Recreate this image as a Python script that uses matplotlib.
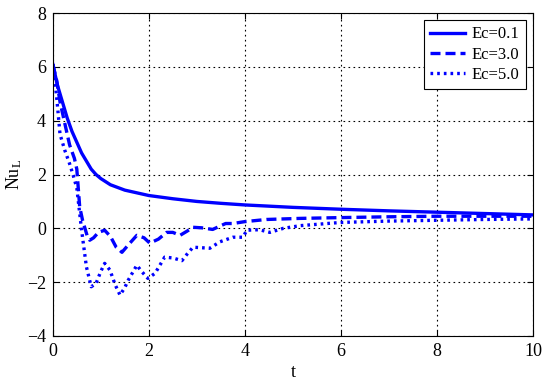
import numpy as np
import matplotlib
matplotlib.use("Agg")
import matplotlib.pyplot as plt

plt.rcParams['font.family'] = ['Liberation Serif', 'DejaVu Serif']
plt.rcParams['mathtext.fontset'] = 'custom'
plt.rcParams['mathtext.rm'] = 'Liberation Serif'
plt.rcParams['mathtext.it'] = 'Liberation Serif:italic'

# Ec = 0.1
t1 = [0, 0.1, 0.2, 0.3, 0.4, 0.5, 0.6, 0.7, 0.8, 0.9, 1.0, 1.2, 1.5, 2.0, 2.5, 3.0, 3.5, 4.0,
      5.0, 6.0, 7.0, 8.0, 9.0, 10.0]
nu1 = [6.1, 5.3, 4.7, 4.1, 3.6, 3.2, 2.8, 2.5, 2.2, 2.0, 1.85, 1.62, 1.42, 1.22, 1.1, 1.0, 0.93, 0.87,
       0.78, 0.71, 0.65, 0.6, 0.55, 0.5]

# Ec = 3.0
t2 = [0, 0.08, 0.15, 0.25, 0.35, 0.45, 0.5, 0.56, 0.62, 0.67, 0.72, 0.77, 0.85, 0.95, 1.08, 1.2,
      1.32, 1.44, 1.58, 1.75, 1.9, 2.02, 2.2, 2.37, 2.5, 2.65, 2.8, 2.92, 3.1, 3.33, 3.5, 3.6,
      3.75, 4.0, 4.45, 5.15, 6.0, 7.0, 8.0, 9.0, 10.0]
nu2 = [6.1, 5.5, 4.7, 3.9, 3.1, 2.6, 2.2, 0.8, 0.3, 0.0, -0.3, -0.44, -0.35, -0.15, -0.07, -0.3,
       -0.7, -0.89, -0.6, -0.26, -0.35, -0.55, -0.4, -0.15, -0.15, -0.26, -0.1, 0.04, 0.02, -0.04, 0.1, 0.18,
       0.18, 0.25, 0.33, 0.37, 0.4, 0.43, 0.45, 0.45, 0.45]

# Ec = 5.0
t3 = [0, 0.04, 0.1, 0.15, 0.25, 0.35, 0.42, 0.5, 0.6, 0.7, 0.8, 0.9, 1.0, 1.08, 1.19, 1.3,
      1.4, 1.5, 1.57, 1.75, 1.85, 1.98, 2.13, 2.33, 2.5, 2.69, 2.8, 2.92, 3.1, 3.27, 3.48, 3.75,
      3.96, 4.04, 4.3, 4.52, 4.8, 5.15, 6.0, 7.0, 8.0, 9.0, 10.0]
nu3 = [6.1, 5.6, 4.5, 3.5, 2.9, 2.4, 2.0, 1.5, -0.07, -1.43, -2.17, -2.05, -1.6, -1.3, -1.55, -2.1,
       -2.48, -2.2, -1.93, -1.37, -1.6, -1.86, -1.67, -1.07, -1.1, -1.2, -0.95, -0.7, -0.72, -0.74, -0.5, -0.33,
       -0.33, -0.07, -0.05, -0.15, 0.0, 0.1, 0.22, 0.27, 0.3, 0.33, 0.35]

fig = plt.figure(figsize=(5.5, 3.84), dpi=100)
ax = fig.add_axes([0.096, 0.125, 0.873, 0.841])

blue = '#0000ff'
ax.plot(t1, nu1, '-', color=blue, lw=2.4, label='Ec=0.1')
ax.plot(t2, nu2, '--', color=blue, lw=2.4, dashes=(3, 1.5), label='Ec=3.0')
ax.plot(t3, nu3, ':', color=blue, lw=2.4, dashes=(0.8, 1.2), label='Ec=5.0')

ax.set_xlim(0, 10)
ax.set_ylim(-4, 8)
ax.set_xticks([0, 2, 4, 6, 8, 10])
ax.set_yticks([-4, -2, 0, 2, 4, 6, 8])
ax.grid(True, color='black', linestyle=(0, (1.5, 3)), linewidth=0.8)
ax.tick_params(direction='in', top=True, right=True, labelsize=13, length=4, pad=5)
for s in ax.spines.values():
    s.set_linewidth(0.8)

ax.set_xlabel('t', fontsize=13, labelpad=3)
ax.set_ylabel(r'Nu$_{\mathrm{L}}$', fontsize=13, labelpad=2)

leg = ax.legend(loc='upper right', fontsize=12, fancybox=False, edgecolor='black',
                framealpha=1, handlelength=2.1, handletextpad=0.4, borderaxespad=0.4,
                labelspacing=0.25, borderpad=0.4)
leg.get_frame().set_linewidth(0.8)

fig.savefig('out.png', dpi=100)
